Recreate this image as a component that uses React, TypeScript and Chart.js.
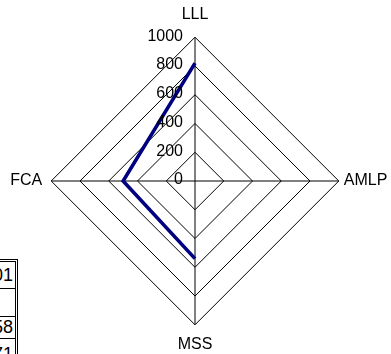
import React, { useEffect, useRef } from 'react';
import { Chart, registerables } from 'chart.js';

Chart.register(...registerables);

// ---- data ----
const CATEGORIES = ['LLL', 'AMLP', 'MSS', 'FCA'];
const SERIES_VALUES: (number | null)[] = [820, null, 540, 500];
const TICK_VALUES = [0, 200, 400, 600, 800, 1000];
const TABLE_CELLS = ['01', '', '58', '71'];

const FONT = '"Liberation Sans", Arial, Helvetica, sans-serif';
const LABEL_PADDING = [13, 5, 10, 9];
const TABLE_ROW_HEIGHTS = [26, 27, 21, 30];

const CANVAS_W = 591;
const CANVAS_H = 352;

const tickLabelPlugin = {
  id: 'tickLabelPlugin',
  afterDatasetsDraw(chart: any) {
    const s = chart.scales.r;
    const ctx = chart.ctx;
    ctx.save();
    ctx.font = `16px ${FONT}`;
    ctx.fillStyle = '#000';
    ctx.textAlign = 'right';
    ctx.textBaseline = 'middle';
    TICK_VALUES.forEach((v) => {
      const d = s.getDistanceFromCenterForValue(v);
      ctx.fillText(String(v), s.xCenter - 12, s.yCenter - d - 1);
    });
    ctx.restore();
  },
};

export default function App() {
  const ref = useRef<HTMLCanvasElement | null>(null);

  useEffect(() => {
    if (!ref.current) return;
    const chart = new Chart(ref.current, {
      type: 'radar',
      data: {
        labels: CATEGORIES,
        datasets: [
          {
            data: SERIES_VALUES,
            borderColor: '#000080',
            borderWidth: 3.6,
            backgroundColor: 'transparent',
            fill: false,
            pointRadius: 0,
            pointHoverRadius: 0,
            spanGaps: false,
            tension: 0,
          },
        ],
      },
      options: {
        responsive: false,
        maintainAspectRatio: false,
        animation: false,
        layout: { padding: 0 },
        plugins: {
          legend: { display: false },
          tooltip: { enabled: false },
        },
        scales: {
          r: {
            min: 0,
            max: 1000,
            beginAtZero: true,
            ticks: { display: false, stepSize: 200 },
            grid: { color: '#000', lineWidth: 1 },
            angleLines: { color: '#000', lineWidth: 1 },
            pointLabels: {
              color: '#000',
              font: { size: 16, family: FONT },
              padding: (ctx: any) => LABEL_PADDING[ctx.index] ?? 5,
            },
          },
        },
      },
      plugins: [tickLabelPlugin],
    } as any);
    return () => chart.destroy();
  }, []);

  let top = 262;
  const rows = TABLE_CELLS.map((txt, i) => {
    const h = TABLE_ROW_HEIGHTS[i];
    const el = (
      <div
        key={i}
        style={{
          position: 'absolute',
          left: 0,
          top: top - 262,
          width: '100%',
          height: h,
          lineHeight: `${h}px`,
          borderBottom: '1px solid #000',
          textAlign: 'right',
          paddingRight: 2,
          boxSizing: 'content-box',
          fontFamily: FONT,
          fontSize: 18,
          color: '#000',
          whiteSpace: 'nowrap',
        }}
      >
        {txt}
      </div>
    );
    top += h + 1;
    return el;
  });

  return (
    <div
      style={{
        position: 'fixed',
        left: 0,
        top: 0,
        width: 391,
        height: 354,
        overflow: 'hidden',
        background: '#fff',
      }}
    >
      <div style={{ position: 'absolute', left: -100, top: 4, width: CANVAS_W, height: CANVAS_H }}>
        <canvas ref={ref} width={CANVAS_W} height={CANVAS_H} style={{ display: 'block' }} />
      </div>
      <div
        style={{
          position: 'absolute',
          left: -40,
          top: 259,
          width: 55,
          height: 120,
          borderTop: '3px double #000',
          borderRight: '3px double #000',
          background: '#fff',
        }}
      >
        <div style={{ position: 'relative', width: 53, height: '100%' }}>{rows}</div>
      </div>
    </div>
  );
}
